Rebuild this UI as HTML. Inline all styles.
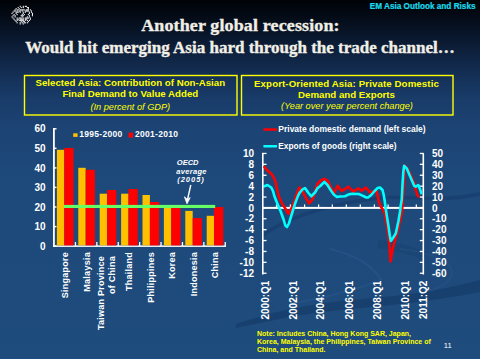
<!DOCTYPE html><html><head><meta charset="utf-8"><style>html,body{margin:0;padding:0;background:#1d487c;}svg{display:block}</style></head><body>
<svg width="480" height="359" viewBox="0 0 480 359">
<defs>
<linearGradient id="bg" x1="0" y1="0" x2="0" y2="359" gradientUnits="userSpaceOnUse">
<stop offset="0.0000" stop-color="#000206"/>
<stop offset="0.0557" stop-color="#050d1a"/>
<stop offset="0.1114" stop-color="#0a1930"/>
<stop offset="0.1671" stop-color="#102646"/>
<stop offset="0.2228" stop-color="#15325a"/>
<stop offset="0.2786" stop-color="#193c6a"/>
<stop offset="0.3621" stop-color="#1c4474"/>
<stop offset="0.5014" stop-color="#1d497b"/>
<stop offset="1.0000" stop-color="#1e4c7c"/>
</linearGradient>
</defs>
<rect x="0" y="0" width="480" height="359" fill="url(#bg)"/>
<path d="M236,324 C260,316 290,307 340,301 C380,297 420,296 480,280 L480,292 C430,302 390,305 340,310 C300,314 265,322 236,328 Z" fill="#163c69" opacity="0.7"/>
<path d="M290,304 C320,298 350,292 372,283" stroke="#2c5a8f" stroke-width="1.8" fill="none" opacity="0.45"/>
<path d="M330,249 C352,254 372,264 382,281" stroke="#2c5a8f" stroke-width="1.8" fill="none" opacity="0.45"/>
<path d="M262,236 C288,216 335,203 380,198 C412,195 440,203 480,194" stroke="#173e6c" stroke-width="3.5" fill="none" opacity="0.75"/>
<path d="M378,244 C395,246 410,250 425,256" stroke="#173e6c" stroke-width="8" fill="none" opacity="0.4"/>
<path d="M400,249 C430,252 452,262 452,272 C452,282 440,288 425,292" stroke="#2c5a8f" stroke-width="2" fill="none" opacity="0.35"/>
<g fill="#f4f4f4"><rect x="19.66" y="5.77" width="1.1" height="1.2"/><rect x="22.72" y="5.77" width="1.1" height="1.2"/><rect x="24.76" y="5.77" width="1.1" height="1.2"/><rect x="25.78" y="5.77" width="1.1" height="1.2"/><rect x="17.62" y="6.94" width="1.1" height="1.2"/><rect x="20.68" y="6.94" width="1.1" height="1.2"/><rect x="22.72" y="6.94" width="1.1" height="1.2"/><rect x="26.80" y="6.94" width="1.1" height="1.2"/><rect x="27.82" y="6.94" width="1.1" height="1.2"/><rect x="15.58" y="8.11" width="1.1" height="1.2"/><rect x="18.64" y="8.11" width="1.1" height="1.2"/><rect x="27.82" y="8.11" width="1.1" height="1.2"/><rect x="14.56" y="9.28" width="1.1" height="1.2"/><rect x="16.60" y="9.28" width="1.1" height="1.2"/><rect x="17.62" y="9.28" width="1.1" height="1.2"/><rect x="19.66" y="9.28" width="1.1" height="1.2"/><rect x="20.68" y="9.28" width="1.1" height="1.2"/><rect x="21.70" y="9.28" width="1.1" height="1.2"/><rect x="22.72" y="9.28" width="1.1" height="1.2"/><rect x="23.74" y="9.28" width="1.1" height="1.2"/><rect x="25.78" y="9.28" width="1.1" height="1.2"/><rect x="26.80" y="9.28" width="1.1" height="1.2"/><rect x="27.82" y="9.28" width="1.1" height="1.2"/><rect x="29.86" y="9.28" width="1.1" height="1.2"/><rect x="13.54" y="10.45" width="1.1" height="1.2"/><rect x="14.56" y="10.45" width="1.1" height="1.2"/><rect x="16.60" y="10.45" width="1.1" height="1.2"/><rect x="18.64" y="10.45" width="1.1" height="1.2"/><rect x="19.66" y="10.45" width="1.1" height="1.2"/><rect x="21.70" y="10.45" width="1.1" height="1.2"/><rect x="24.76" y="10.45" width="1.1" height="1.2"/><rect x="25.78" y="10.45" width="1.1" height="1.2"/><rect x="26.80" y="10.45" width="1.1" height="1.2"/><rect x="27.82" y="10.45" width="1.1" height="1.2"/><rect x="30.88" y="10.45" width="1.1" height="1.2"/><rect x="12.52" y="11.62" width="1.1" height="1.2"/><rect x="15.58" y="11.62" width="1.1" height="1.2"/><rect x="16.60" y="11.62" width="1.1" height="1.2"/><rect x="17.62" y="11.62" width="1.1" height="1.2"/><rect x="19.66" y="11.62" width="1.1" height="1.2"/><rect x="22.72" y="11.62" width="1.1" height="1.2"/><rect x="24.76" y="11.62" width="1.1" height="1.2"/><rect x="28.84" y="11.62" width="1.1" height="1.2"/><rect x="30.88" y="11.62" width="1.1" height="1.2"/><rect x="11.50" y="12.79" width="1.1" height="1.2"/><rect x="15.58" y="12.79" width="1.1" height="1.2"/><rect x="22.72" y="12.79" width="1.1" height="1.2"/><rect x="28.84" y="12.79" width="1.1" height="1.2"/><rect x="31.90" y="12.79" width="1.1" height="1.2"/><rect x="13.54" y="13.96" width="1.1" height="1.2"/><rect x="16.60" y="13.96" width="1.1" height="1.2"/><rect x="21.70" y="13.96" width="1.1" height="1.2"/><rect x="23.74" y="13.96" width="1.1" height="1.2"/><rect x="27.82" y="13.96" width="1.1" height="1.2"/><rect x="31.90" y="13.96" width="1.1" height="1.2"/><rect x="12.52" y="15.13" width="1.1" height="1.2"/><rect x="14.56" y="15.13" width="1.1" height="1.2"/><rect x="20.68" y="15.13" width="1.1" height="1.2"/><rect x="21.70" y="15.13" width="1.1" height="1.2"/><rect x="22.72" y="15.13" width="1.1" height="1.2"/><rect x="28.84" y="15.13" width="1.1" height="1.2"/><rect x="31.90" y="15.13" width="1.1" height="1.2"/><rect x="11.50" y="16.30" width="1.1" height="1.2"/><rect x="14.56" y="16.30" width="1.1" height="1.2"/><rect x="21.70" y="16.30" width="1.1" height="1.2"/><rect x="26.80" y="16.30" width="1.1" height="1.2"/><rect x="28.84" y="16.30" width="1.1" height="1.2"/><rect x="12.52" y="17.47" width="1.1" height="1.2"/><rect x="16.60" y="17.47" width="1.1" height="1.2"/><rect x="18.64" y="17.47" width="1.1" height="1.2"/><rect x="19.66" y="17.47" width="1.1" height="1.2"/><rect x="20.68" y="17.47" width="1.1" height="1.2"/><rect x="22.72" y="17.47" width="1.1" height="1.2"/><rect x="24.76" y="17.47" width="1.1" height="1.2"/><rect x="25.78" y="17.47" width="1.1" height="1.2"/><rect x="26.80" y="17.47" width="1.1" height="1.2"/><rect x="27.82" y="17.47" width="1.1" height="1.2"/><rect x="29.86" y="17.47" width="1.1" height="1.2"/><rect x="13.54" y="18.64" width="1.1" height="1.2"/><rect x="16.60" y="18.64" width="1.1" height="1.2"/><rect x="17.62" y="18.64" width="1.1" height="1.2"/><rect x="19.66" y="18.64" width="1.1" height="1.2"/><rect x="20.68" y="18.64" width="1.1" height="1.2"/><rect x="21.70" y="18.64" width="1.1" height="1.2"/><rect x="22.72" y="18.64" width="1.1" height="1.2"/><rect x="24.76" y="18.64" width="1.1" height="1.2"/><rect x="25.78" y="18.64" width="1.1" height="1.2"/><rect x="29.86" y="18.64" width="1.1" height="1.2"/><rect x="14.56" y="19.81" width="1.1" height="1.2"/><rect x="16.60" y="19.81" width="1.1" height="1.2"/><rect x="18.64" y="19.81" width="1.1" height="1.2"/><rect x="19.66" y="19.81" width="1.1" height="1.2"/><rect x="20.68" y="19.81" width="1.1" height="1.2"/><rect x="21.70" y="19.81" width="1.1" height="1.2"/><rect x="22.72" y="19.81" width="1.1" height="1.2"/><rect x="24.76" y="19.81" width="1.1" height="1.2"/><rect x="26.80" y="19.81" width="1.1" height="1.2"/><rect x="28.84" y="19.81" width="1.1" height="1.2"/><rect x="15.58" y="20.98" width="1.1" height="1.2"/><rect x="20.68" y="20.98" width="1.1" height="1.2"/><rect x="22.72" y="20.98" width="1.1" height="1.2"/><rect x="23.74" y="20.98" width="1.1" height="1.2"/><rect x="27.82" y="20.98" width="1.1" height="1.2"/><rect x="16.60" y="22.15" width="1.1" height="1.2"/><rect x="19.66" y="22.15" width="1.1" height="1.2"/><rect x="21.70" y="22.15" width="1.1" height="1.2"/><rect x="23.74" y="22.15" width="1.1" height="1.2"/><rect x="24.76" y="22.15" width="1.1" height="1.2"/><rect x="26.80" y="22.15" width="1.1" height="1.2"/><rect x="19.66" y="23.32" width="1.1" height="1.2"/><rect x="22.72" y="23.32" width="1.1" height="1.2"/></g>
<text x="369.8" y="8.6" font-family="Liberation Sans" font-size="8.2" font-weight="bold" fill="#19dcec" stroke="#19dcec" stroke-width="0.2">EM Asia Outlook and Risks</text>
<text transform="translate(240.4,31.3) scale(1.06,1)" x="0" y="0" font-family="Liberation Serif" font-size="17" font-weight="bold" fill="#f2efe6" stroke="#f2efe6" stroke-width="0.33" text-anchor="middle" letter-spacing="0.12">Another global recession:</text>
<text x="240" y="53.3" font-family="Liberation Serif" font-size="17" font-weight="bold" fill="#f2efe6" stroke="#f2efe6" stroke-width="0.35" text-anchor="middle">Would hit emerging Asia hard through the trade channel…</text>
<rect x="24.5" y="75.5" width="212.5" height="39.5" fill="none" stroke="#ffff00" stroke-width="1.4"/>
<rect x="241.5" y="75.5" width="211.5" height="39.5" fill="none" stroke="#ffff00" stroke-width="1.4"/>
<text font-family="Liberation Sans" font-size="9.7" font-weight="bold" fill="#ffff00" text-anchor="middle"><tspan x="130.3" y="85.6">Selected Asia: Contribution of Non-Asian</tspan><tspan x="130.3" y="96.6">Final Demand to Value Added</tspan></text>
<text x="130.3" y="109.8" font-family="Liberation Sans" font-size="9.2" font-style="italic" fill="#ffff00" text-anchor="middle">(In percent of GDP)</text>
<text font-family="Liberation Sans" font-size="9.7" font-weight="bold" fill="#ffff00" text-anchor="middle"><tspan x="346.5" y="86.9" letter-spacing="0.1">Export-Oriented Asia: Private Domestic</tspan><tspan x="346.5" y="97.9">Demand and Exports</tspan></text>
<text x="347" y="109.2" font-family="Liberation Sans" font-size="9.2" font-style="italic" fill="#ffff00" text-anchor="middle">(Year over year percent change)</text>
<text x="45.6" y="132.3" font-family="Liberation Sans" font-size="10" font-weight="bold" fill="#ffffff" text-anchor="end">60</text>
<rect x="53.5" y="128.1" width="3" height="1.4" fill="#ffffff"/>
<text x="45.6" y="151.9" font-family="Liberation Sans" font-size="10" font-weight="bold" fill="#ffffff" text-anchor="end">50</text>
<rect x="53.5" y="147.6" width="3" height="1.4" fill="#ffffff"/>
<text x="45.6" y="171.5" font-family="Liberation Sans" font-size="10" font-weight="bold" fill="#ffffff" text-anchor="end">40</text>
<rect x="53.5" y="167.2" width="3" height="1.4" fill="#ffffff"/>
<text x="45.6" y="191.0" font-family="Liberation Sans" font-size="10" font-weight="bold" fill="#ffffff" text-anchor="end">30</text>
<rect x="53.5" y="186.7" width="3" height="1.4" fill="#ffffff"/>
<text x="45.6" y="210.6" font-family="Liberation Sans" font-size="10" font-weight="bold" fill="#ffffff" text-anchor="end">20</text>
<rect x="53.5" y="206.3" width="3" height="1.4" fill="#ffffff"/>
<text x="45.6" y="230.2" font-family="Liberation Sans" font-size="10" font-weight="bold" fill="#ffffff" text-anchor="end">10</text>
<rect x="53.5" y="225.9" width="3" height="1.4" fill="#ffffff"/>
<text x="45.6" y="249.7" font-family="Liberation Sans" font-size="10" font-weight="bold" fill="#ffffff" text-anchor="end">0</text>
<rect x="53.5" y="245.4" width="3" height="1.4" fill="#ffffff"/>
<rect x="53" y="128" width="1.8" height="119" fill="#ffffff"/>
<rect x="53" y="245.4" width="173" height="1.5" fill="#ffffff"/>
<rect x="74.8" y="242" width="1.3" height="4" fill="#ffffff"/>
<rect x="96.2" y="242" width="1.3" height="4" fill="#ffffff"/>
<rect x="117.6" y="242" width="1.3" height="4" fill="#ffffff"/>
<rect x="139.0" y="242" width="1.3" height="4" fill="#ffffff"/>
<rect x="160.4" y="242" width="1.3" height="4" fill="#ffffff"/>
<rect x="181.8" y="242" width="1.3" height="4" fill="#ffffff"/>
<rect x="203.2" y="242" width="1.3" height="4" fill="#ffffff"/>
<rect x="224.6" y="242" width="1.3" height="4" fill="#ffffff"/>
<rect x="56.9" y="149.8" width="7.4" height="95.6" fill="#ffc000"/>
<rect x="64.3" y="148" width="9.2" height="97.4" fill="#ff0000"/>
<rect x="78.3" y="167.8" width="7.4" height="77.6" fill="#ffc000"/>
<rect x="85.7" y="169.8" width="9.2" height="75.6" fill="#ff0000"/>
<rect x="99.7" y="193.7" width="7.4" height="51.7" fill="#ffc000"/>
<rect x="107.1" y="190" width="9.2" height="55.4" fill="#ff0000"/>
<rect x="121.1" y="193.7" width="7.4" height="51.7" fill="#ffc000"/>
<rect x="128.5" y="189" width="9.2" height="56.4" fill="#ff0000"/>
<rect x="142.5" y="195" width="7.4" height="50.4" fill="#ffc000"/>
<rect x="149.9" y="202" width="9.2" height="43.4" fill="#ff0000"/>
<rect x="163.9" y="207" width="7.4" height="38.4" fill="#ffc000"/>
<rect x="171.3" y="207" width="9.2" height="38.4" fill="#ff0000"/>
<rect x="185.3" y="210.9" width="7.4" height="34.5" fill="#ffc000"/>
<rect x="192.7" y="218.1" width="9.2" height="27.3" fill="#ff0000"/>
<rect x="206.7" y="215.8" width="7.4" height="29.6" fill="#ffc000"/>
<rect x="214.1" y="207" width="9.2" height="38.4" fill="#ff0000"/>
<rect x="64" y="204.9" width="151.2" height="3.1" fill="#66ff66"/>
<rect x="73.2" y="133.3" width="4.4" height="3.6" fill="#ffc000"/>
<text x="79.2" y="137.3" font-family="Liberation Sans" font-size="8.5" font-weight="bold" fill="#ffffff" letter-spacing="0.3">1995-2000</text>
<rect x="128.5" y="132.6" width="4.5" height="5" fill="#ff0000"/>
<text x="134.9" y="137.3" font-family="Liberation Sans" font-size="8.5" font-weight="bold" fill="#ffffff" letter-spacing="0.3">2001-2010</text>
<text font-family="Liberation Sans" font-size="7.5" font-weight="bold" font-style="italic" fill="#ffffff"><tspan x="176.8" y="165.2">OECD</tspan><tspan x="176.3" y="173.5" letter-spacing="0.3">average</tspan><tspan x="177.2" y="182" letter-spacing="1">(2005)</tspan></text>
<path d="M190.8,185 L187.4,200" stroke="#fff" stroke-width="1.4"/><path d="M184.4,196.8 L187,203.8 L190.2,197.6 L187.5,199.5 Z" stroke="#fff" stroke-width="0.8" fill="#fff"/>
<text transform="translate(67.9,252.1) rotate(-90)" font-family="Liberation Sans" font-size="9" font-weight="bold" fill="#ffffff" text-anchor="end" letter-spacing="0.25">Singapore</text>
<text transform="translate(89.5,252.1) rotate(-90)" font-family="Liberation Sans" font-size="9" font-weight="bold" fill="#ffffff" text-anchor="end" letter-spacing="0.25">Malaysia</text>
<text transform="translate(104.2,255.9) rotate(-90)" font-family="Liberation Sans" font-size="9" font-weight="bold" fill="#ffffff" text-anchor="end" letter-spacing="0.25">Taiwan Province</text>
<text transform="translate(115.0,255.9) rotate(-90)" font-family="Liberation Sans" font-size="9" font-weight="bold" fill="#ffffff" text-anchor="end" letter-spacing="0.25">of China</text>
<text transform="translate(132.4,252.1) rotate(-90)" font-family="Liberation Sans" font-size="9" font-weight="bold" fill="#ffffff" text-anchor="end" letter-spacing="0.25">Thailand</text>
<text transform="translate(154.2,252.1) rotate(-90)" font-family="Liberation Sans" font-size="9" font-weight="bold" fill="#ffffff" text-anchor="end" letter-spacing="0.25">Philippines</text>
<text transform="translate(175.1,252.1) rotate(-90)" font-family="Liberation Sans" font-size="9" font-weight="bold" fill="#ffffff" text-anchor="end" letter-spacing="0.25">Korea</text>
<text transform="translate(197.1,252.1) rotate(-90)" font-family="Liberation Sans" font-size="9" font-weight="bold" fill="#ffffff" text-anchor="end" letter-spacing="0.25">Indonesia</text>
<text transform="translate(217.7,252.1) rotate(-90)" font-family="Liberation Sans" font-size="9" font-weight="bold" fill="#ffffff" text-anchor="end" letter-spacing="0.25">China</text>
<rect x="262" y="153.5" width="1.6" height="121" fill="#ffffff"/>
<rect x="422.5" y="153.5" width="1.6" height="121" fill="#ffffff"/>
<rect x="262" y="152.8" width="4.5" height="1.3" fill="#ffffff"/>
<text x="254" y="157.0" font-family="Liberation Sans" font-size="10" font-weight="bold" fill="#ffffff" text-anchor="end">10</text>
<rect x="262" y="163.7" width="4.5" height="1.3" fill="#ffffff"/>
<text x="254" y="167.9" font-family="Liberation Sans" font-size="10" font-weight="bold" fill="#ffffff" text-anchor="end">8</text>
<rect x="262" y="174.6" width="4.5" height="1.3" fill="#ffffff"/>
<text x="254" y="178.8" font-family="Liberation Sans" font-size="10" font-weight="bold" fill="#ffffff" text-anchor="end">6</text>
<rect x="262" y="185.5" width="4.5" height="1.3" fill="#ffffff"/>
<text x="254" y="189.7" font-family="Liberation Sans" font-size="10" font-weight="bold" fill="#ffffff" text-anchor="end">4</text>
<rect x="262" y="196.4" width="4.5" height="1.3" fill="#ffffff"/>
<text x="254" y="200.6" font-family="Liberation Sans" font-size="10" font-weight="bold" fill="#ffffff" text-anchor="end">2</text>
<rect x="262" y="207.2" width="4.5" height="1.3" fill="#ffffff"/>
<text x="254" y="211.5" font-family="Liberation Sans" font-size="10" font-weight="bold" fill="#ffffff" text-anchor="end">0</text>
<rect x="262" y="218.1" width="4.5" height="1.3" fill="#ffffff"/>
<text x="254" y="222.4" font-family="Liberation Sans" font-size="10" font-weight="bold" fill="#ffffff" text-anchor="end">-2</text>
<rect x="262" y="229.0" width="4.5" height="1.3" fill="#ffffff"/>
<text x="254" y="233.3" font-family="Liberation Sans" font-size="10" font-weight="bold" fill="#ffffff" text-anchor="end">-4</text>
<rect x="262" y="239.9" width="4.5" height="1.3" fill="#ffffff"/>
<text x="254" y="244.2" font-family="Liberation Sans" font-size="10" font-weight="bold" fill="#ffffff" text-anchor="end">-6</text>
<rect x="262" y="250.8" width="4.5" height="1.3" fill="#ffffff"/>
<text x="254" y="255.1" font-family="Liberation Sans" font-size="10" font-weight="bold" fill="#ffffff" text-anchor="end">-8</text>
<rect x="262" y="261.7" width="4.5" height="1.3" fill="#ffffff"/>
<text x="254" y="266.0" font-family="Liberation Sans" font-size="10" font-weight="bold" fill="#ffffff" text-anchor="end">-10</text>
<rect x="262" y="272.6" width="4.5" height="1.3" fill="#ffffff"/>
<text x="254" y="276.8" font-family="Liberation Sans" font-size="10" font-weight="bold" fill="#ffffff" text-anchor="end">-12</text>
<rect x="419.8" y="152.8" width="4" height="1.3" fill="#ffffff"/>
<text x="432" y="157.0" font-family="Liberation Sans" font-size="10" font-weight="bold" fill="#ffffff">50</text>
<rect x="419.8" y="163.7" width="4" height="1.3" fill="#ffffff"/>
<text x="432" y="167.9" font-family="Liberation Sans" font-size="10" font-weight="bold" fill="#ffffff">40</text>
<rect x="419.8" y="174.6" width="4" height="1.3" fill="#ffffff"/>
<text x="432" y="178.8" font-family="Liberation Sans" font-size="10" font-weight="bold" fill="#ffffff">30</text>
<rect x="419.8" y="185.5" width="4" height="1.3" fill="#ffffff"/>
<text x="432" y="189.7" font-family="Liberation Sans" font-size="10" font-weight="bold" fill="#ffffff">20</text>
<rect x="419.8" y="196.4" width="4" height="1.3" fill="#ffffff"/>
<text x="432" y="200.6" font-family="Liberation Sans" font-size="10" font-weight="bold" fill="#ffffff">10</text>
<rect x="419.8" y="207.2" width="4" height="1.3" fill="#ffffff"/>
<text x="432" y="211.5" font-family="Liberation Sans" font-size="10" font-weight="bold" fill="#ffffff">0</text>
<rect x="419.8" y="218.1" width="4" height="1.3" fill="#ffffff"/>
<text x="432" y="222.4" font-family="Liberation Sans" font-size="10" font-weight="bold" fill="#ffffff">-10</text>
<rect x="419.8" y="229.0" width="4" height="1.3" fill="#ffffff"/>
<text x="432" y="233.3" font-family="Liberation Sans" font-size="10" font-weight="bold" fill="#ffffff">-20</text>
<rect x="419.8" y="239.9" width="4" height="1.3" fill="#ffffff"/>
<text x="432" y="244.2" font-family="Liberation Sans" font-size="10" font-weight="bold" fill="#ffffff">-30</text>
<rect x="419.8" y="250.8" width="4" height="1.3" fill="#ffffff"/>
<text x="432" y="255.1" font-family="Liberation Sans" font-size="10" font-weight="bold" fill="#ffffff">-40</text>
<rect x="419.8" y="261.7" width="4" height="1.3" fill="#ffffff"/>
<text x="432" y="266.0" font-family="Liberation Sans" font-size="10" font-weight="bold" fill="#ffffff">-50</text>
<rect x="419.8" y="272.6" width="4" height="1.3" fill="#ffffff"/>
<text x="432" y="276.8" font-family="Liberation Sans" font-size="10" font-weight="bold" fill="#ffffff">-60</text>
<rect x="275.9" y="204.4" width="1.2" height="3.5" fill="#ffffff"/>
<rect x="289.8" y="204.4" width="1.2" height="3.5" fill="#ffffff"/>
<rect x="304.0" y="204.4" width="1.2" height="3.5" fill="#ffffff"/>
<rect x="318.0" y="204.4" width="1.2" height="3.5" fill="#ffffff"/>
<rect x="331.7" y="204.4" width="1.2" height="3.5" fill="#ffffff"/>
<rect x="345.7" y="204.4" width="1.2" height="3.5" fill="#ffffff"/>
<rect x="359.7" y="204.4" width="1.2" height="3.5" fill="#ffffff"/>
<rect x="373.8" y="204.4" width="1.2" height="3.5" fill="#ffffff"/>
<rect x="387.5" y="204.4" width="1.2" height="3.5" fill="#ffffff"/>
<rect x="401.6" y="204.4" width="1.2" height="3.5" fill="#ffffff"/>
<rect x="415.7" y="204.4" width="1.2" height="3.5" fill="#ffffff"/>
<rect x="262" y="206.9" width="162" height="2" fill="#ffffff"/>
<rect x="263.4" y="128.3" width="13.6" height="2.5" fill="#ff0000"/>
<text x="278.3" y="132" font-family="Liberation Sans" font-size="8.5" font-weight="bold" fill="#ffffff">Private domestic demand (left scale)</text>
<rect x="263.4" y="145" width="13.6" height="2.5" fill="#00ffff"/>
<text x="278.3" y="148.7" font-family="Liberation Sans" font-size="8.35" font-weight="bold" fill="#ffffff">Exports of goods (right scale)</text>
<polyline points="263.75,166.25 267.5,170.6 271.25,173.75 273.75,177.5 275.6,181.9 276.9,188.75 278.75,196.25 281.9,203.1 286.25,210 288.5,213.75 291.25,208.75 294.4,201.25 296.9,193.5 299.4,187.5 302.5,191.25 305.6,197.5 309,203.3 312.5,199.5 315.6,190 317.5,183.75 320.6,180.6 324.4,178.75 327.5,180.6 330,185.6 332.5,190.6 334.4,192.5 337.5,185.8 341.7,190.8 345,189 348.3,186.7 353.3,191.7 358.3,188.3 361.7,190.8 365.8,187.5 370,192.5 373.75,191.25 376.25,190.6 377.5,195 378.75,201.25 380.6,206.25 383.1,210 385,214.4 388.3,233.3 389.8,250 390.5,261.5 392.3,251 395,240 398.3,228.3 401.7,213.3 402.5,205 404.6,165.5 407.5,168.8 410.2,174.2 412.7,180 414.9,185 415.8,190 417.5,195 418.7,197.5" fill="none" stroke="#ff0000" stroke-width="2.6" stroke-linejoin="round"/>
<polyline points="263.75,186.5 267.5,185 271.25,187.5 273.1,191.25 274.4,196.25 276.9,202.5 280.6,211.25 283.75,220 285.3,225.5 287,227 288.9,223.5 291.9,213.75 295,203.75 298.1,195.6 299.4,193.1 302.5,189.4 305,188.1 308.1,192.5 311.25,196.25 315,192.5 317.5,188.1 320,186.25 321.25,185 324.4,181.9 327.5,185 330.6,190 333.75,194.4 336.9,196.9 340,196.5 345,196.25 348.75,194.4 352.5,193.75 358.75,194 362.5,195.6 366.25,197.5 368.1,197.5 371.25,195 374.4,191.25 377.5,188.1 380,187.5 382.5,190 383.75,195 384.75,201.25 385.6,207.5 386.7,215 388.3,225 390,236.7 390.8,241 393.3,237.5 395.8,233.3 398.3,221.7 400,211.7 400.8,205 401.7,200 402.5,185 403.3,171.7 404.2,165.8 406.7,168.3 409.2,174.2 411.7,180 414.2,185.8 415.8,186.7 418.3,185 420,189.2 421.7,194.2" fill="none" stroke="#00ffff" stroke-width="2.6" stroke-linejoin="round"/>
<text transform="translate(269.2,280.6) rotate(-90)" font-family="Liberation Sans" font-size="10" font-weight="bold" fill="#ffffff" text-anchor="end">2000:Q1</text>
<text transform="translate(296.6,280.6) rotate(-90)" font-family="Liberation Sans" font-size="10" font-weight="bold" fill="#ffffff" text-anchor="end">2002:Q1</text>
<text transform="translate(324.3,280.6) rotate(-90)" font-family="Liberation Sans" font-size="10" font-weight="bold" fill="#ffffff" text-anchor="end">2004:Q1</text>
<text transform="translate(353.0,280.6) rotate(-90)" font-family="Liberation Sans" font-size="10" font-weight="bold" fill="#ffffff" text-anchor="end">2006:Q1</text>
<text transform="translate(380.6,280.6) rotate(-90)" font-family="Liberation Sans" font-size="10" font-weight="bold" fill="#ffffff" text-anchor="end">2008:Q1</text>
<text transform="translate(408.6,280.6) rotate(-90)" font-family="Liberation Sans" font-size="10" font-weight="bold" fill="#ffffff" text-anchor="end">2010:Q1</text>
<text transform="translate(426.7,280.6) rotate(-90)" font-family="Liberation Sans" font-size="10" font-weight="bold" fill="#ffffff" text-anchor="end">2011:Q2</text>
<text font-family="Liberation Sans" font-size="7" font-weight="bold" fill="#ffff00"><tspan x="257" y="335.6">Note: Includes China, Hong Kong SAR, Japan,</tspan><tspan x="257" y="343.7">Korea, Malaysia, the Philippines, Taiwan Province of</tspan><tspan x="257" y="351.7">China, and Thailand.</tspan></text>
<text x="443.8" y="348" font-family="Liberation Sans" font-size="7.6" fill="#ffffff">11</text>
</svg></body></html>
